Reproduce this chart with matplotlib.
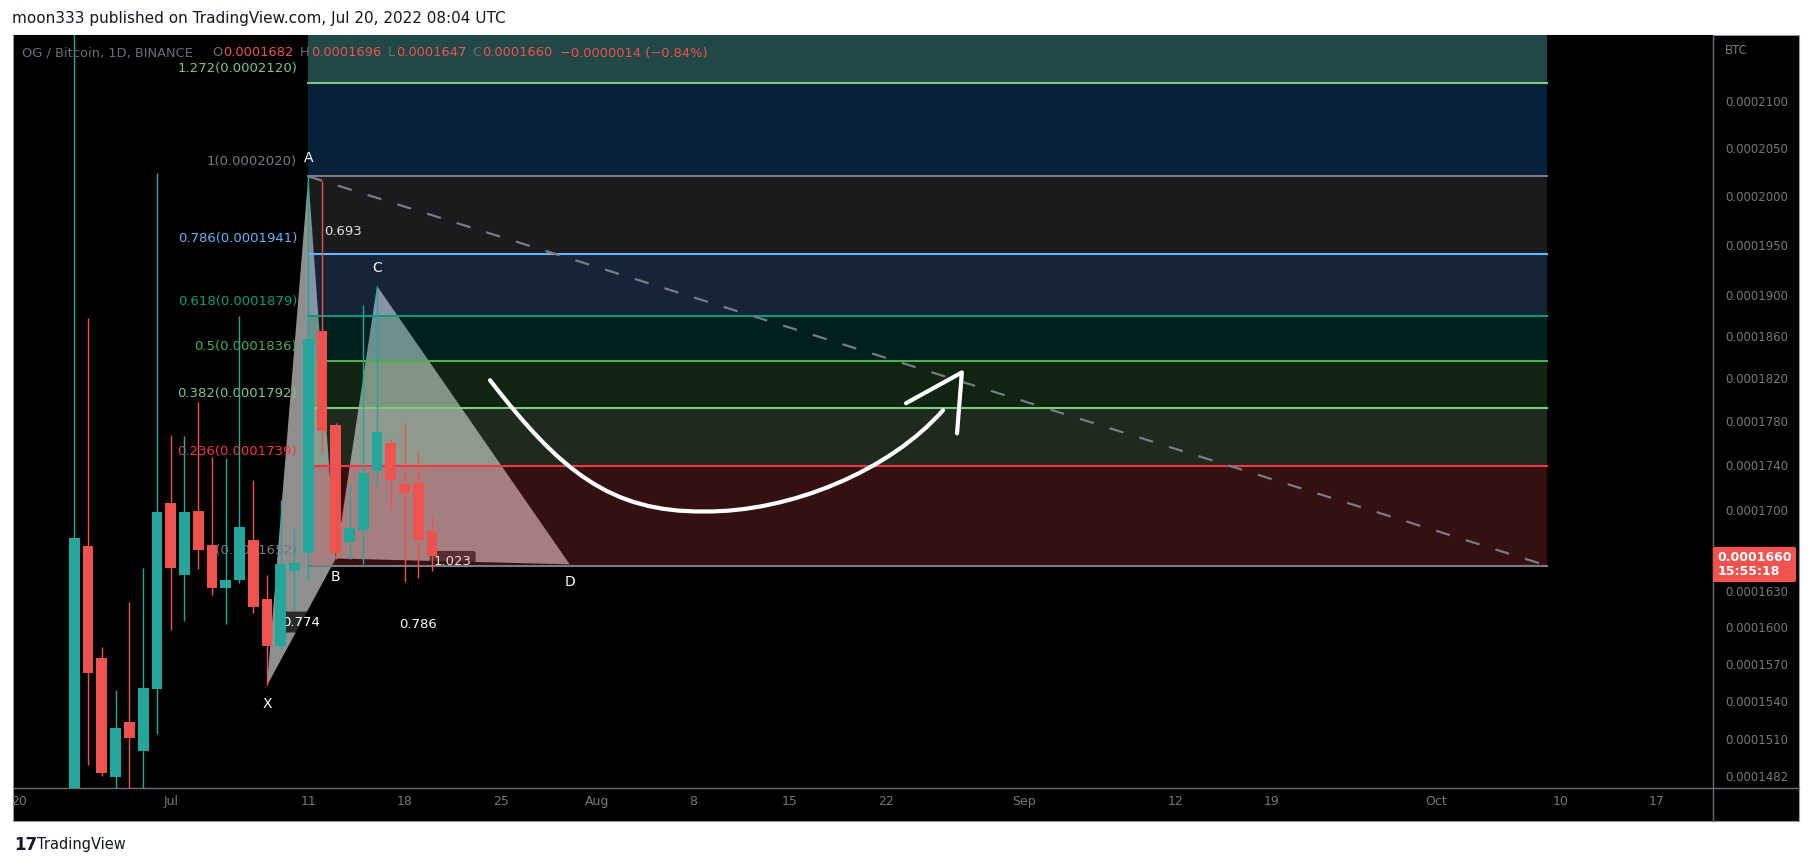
import matplotlib
matplotlib.use("Agg")
import matplotlib.pyplot as plt
import matplotlib.dates as mdates
import matplotlib.transforms as mtransforms
from matplotlib.patches import Rectangle, PathPatch
from matplotlib.path import Path
from matplotlib.lines import Line2D
from matplotlib.ticker import NullLocator
import numpy as np
import pandas as pd

plt.rcParams['font.family'] = ['DejaVu Sans']

W, H = 1813, 866
SCALE = 1e-7  # prices below are in units of 1e-7 BTC

# daily candles, OG/BTC
candle_dates = pd.date_range("2022-06-24", "2022-07-20", freq="D")
opens = [1440, 1669, 1575, 1481, 1524, 1501, 1550, 1706, 1644, 1699, 1670, 1633, 1640, 1673.5,
         1624, 1585, 1647, 1663, 1865, 1776, 1672, 1683, 1735, 1760, 1723, 1724, 1682]
highs = [2250, 1877, 1584, 1549, 1621, 1650, 2023, 1767, 1766, 1798, 1747, 1746, 1879, 1727,
         1644, 1708.5, 1684, 2020, 2015, 1778, 1723, 1890, 1909, 1764, 1778, 1751, 1696]
lows = [1420, 1490, 1482, 1468, 1468, 1470, 1514, 1598, 1605, 1649, 1627, 1603, 1637, 1612,
        1553, 1582, 1615, 1639, 1752, 1658, 1658, 1653, 1720, 1701, 1638, 1641, 1647]
closes = [1675.5, 1563, 1484, 1519, 1511.5, 1551, 1698, 1650, 1698, 1665, 1633, 1640, 1685, 1617,
          1585, 1653, 1654, 1857.5, 1771, 1662.5, 1684, 1733, 1770, 1727, 1715, 1674, 1660]

# XABCD pattern
pattern_names = ["X", "A", "B", "C", "D"]
pattern_dates = ["2022-07-08", "2022-07-11", "2022-07-13", "2022-07-16", "2022-07-30"]
pattern_prices = [1552.6, 2020, 1658, 1908.6, 1653]
ratio_pairs = [("X", "B"), ("A", "C"), ("B", "D"), ("X", "D")]
ratio_texts = ["0.774", "0.693", "1.023", "0.786"]

# fib retracement
fib_ratios = ["1.272", "1", "0.786", "0.618", "0.5", "0.382", "0.236", "0"]
fib_prices = [2120, 2020, 1941, 1879, 1836, 1792, 1739, 1652]
fib_start = "2022-07-11"
fib_end = "2022-10-09"

# dashed trend line
trend_dates = ["2022-07-11", "2022-10-09"]
trend_prices = [2020, 1652]

# hand drawn arrow: bezier control points (days after Jun 20, price)
curve_days = [34.21, 39.29, 42.93, 49.76, 56.01, 63.28, 67.13]
curve_prices = [1818, 1735, 1698, 1698.8, 1698, 1735, 1790]
head_days = [64.44, 68.5, 68.15]
head_prices = [1796.5, 1825.3, 1768.7]

xtick_dates = ["2022-06-20", "2022-07-01", "2022-07-11", "2022-07-18", "2022-07-25", "2022-08-01",
               "2022-08-08", "2022-08-15", "2022-08-22", "2022-09-01", "2022-09-12", "2022-09-19",
               "2022-10-01", "2022-10-10", "2022-10-17"]
xtick_labels = ["20", "Jul", "11", "18", "25", "Aug", "8", "15", "22", "Sep", "12", "19", "Oct", "10", "17"]
ytick_prices = [2100, 2050, 2000, 1950, 1900, 1860, 1820, 1780, 1740, 1700, 1630, 1600, 1570, 1540, 1510, 1482]

UP, DOWN = '#26A69A', '#EF5350'
AXIS_TXT = '#787878'
fib_line_colors = ['#81C784', '#787B86', '#64B5F6', '#089981', '#4CAF50', '#81C784', '#F23645', '#787B86']
zone_colors = [('#61CECE', 0.35), ('#1C84E8', 0.25), ('#7F7F88', 0.22), ('#64ADFF', 0.22),
               ('#009191', 0.22), ('#4DAD4D', 0.22), ('#88C388', 0.22), ('#F54949', 0.22)]


def dn(s):
    return mdates.date2num(pd.Timestamp(s).to_pydatetime())


def fx(px):
    return px / W


def fy(py):
    return 1 - py / H


fig = plt.figure(figsize=(W / 100, H / 100), dpi=100, facecolor='white')
fig.patches.append(Rectangle((fx(13), fy(821)), (1799 - 13) / W, (821 - 35) / H,
                             transform=fig.transFigure, facecolor='black',
                             edgecolor='#9598a1', linewidth=0.8, zorder=-1))
ax = fig.add_axes([fx(14), fy(788), (1713 - 14) / W, (788 - 35) / H])
ax.set_facecolor('black')

base = dn("2022-06-20")
ax.set_yscale('log')
ax.set_xlim(base - 0.385, base + 123.09)
ax.set_ylim(1472.6 * SCALE, 2173 * SCALE)

# pattern triangles
px = {n: dn(d) for n, d in zip(pattern_names, pattern_dates)}
pp = {n: p * SCALE for n, p in zip(pattern_names, pattern_prices)}
for tri in (("X", "A", "B"), ("B", "C", "D")):
    ax.fill([px[n] for n in tri], [pp[n] for n in tri], color='#8f8f8f', lw=0, zorder=1)

# ratio labels at leg midpoints (under the fib zones)
for (a, b), t in zip(ratio_pairs, ratio_texts):
    mx = (px[a] + px[b]) / 2
    my = np.sqrt(pp[a] * pp[b])
    ax.text(mx, my, t, ha='center', va='center', fontsize=9.5, color='white', zorder=1.5,
            bbox=dict(boxstyle='round,pad=0.3,rounding_size=0.2', fc=(0, 0, 0, 0.7), ec='none'))

# fib zones + lines
x0, x1 = dn(fib_start), dn(fib_end)
bounds = [2400] + fib_prices
for i, (col, a) in enumerate(zone_colors):
    ax.fill_between([x0, x1], bounds[i + 1] * SCALE, bounds[i] * SCALE, color=col, alpha=a, lw=0, zorder=2)
for r, p, c in zip(fib_ratios, fib_prices, fib_line_colors):
    ax.plot([x0, x1], [p * SCALE, p * SCALE], color=c, lw=1.5, zorder=3)
    ax.annotate(f"{r}({p * SCALE:.7f})", xy=(x0, p * SCALE), xytext=(-8, 10.5),
                textcoords='offset points', ha='right', va='center', fontsize=9.5, color=c, zorder=3)

ax.plot([dn(d) for d in trend_dates], [p * SCALE for p in trend_prices], color='#787B86',
        lw=1.6, dashes=(6.5, 7.5), zorder=3)

# candles
cx = mdates.date2num(candle_dates.to_pydatetime())
o = np.array(opens) * SCALE
h = np.array(highs) * SCALE
l = np.array(lows) * SCALE
c = np.array(closes) * SCALE
cols = [UP if cc >= oo else DOWN for oo, cc in zip(o, c)]
ax.vlines(cx, l, h, colors=cols, lw=1.0, zorder=4)
ax.bar(cx, np.abs(c - o), bottom=np.minimum(o, c), width=0.78, color=cols, lw=0, zorder=4)

# pattern point letters
for n in pattern_names:
    up = n in ("A", "C")
    ax.annotate(n, xy=(px[n], pp[n]), xytext=(0, 13 if up else -13), textcoords='offset points',
                ha='center', va='center', fontsize=10, color='white', zorder=5)

# arrow
verts = list(zip(base + np.array(curve_days), np.array(curve_prices) * SCALE))
codes = [Path.MOVETO] + [Path.CURVE4] * 6
ax.add_patch(PathPatch(Path(verts, codes), fc='none', ec='white', lw=3, capstyle='round',
                       joinstyle='round', zorder=6))
ax.plot(base + np.array(head_days), np.array(head_prices) * SCALE, color='white', lw=3,
        solid_capstyle='round', solid_joinstyle='round', zorder=6)

# axes styling
for s in ('top', 'left'):
    ax.spines[s].set_visible(False)
for s in ('right', 'bottom'):
    ax.spines[s].set_color('#6a6d78')
    ax.spines[s].set_linewidth(1.0)
ax.set_yticks([p * SCALE for p in ytick_prices])
ax.set_yticklabels([f"{p * SCALE:.7f}" for p in ytick_prices])
ax.yaxis.set_minor_locator(NullLocator())
ax.tick_params(axis='y', which='both', left=False, right=False, labelleft=False, labelright=True,
               length=0, pad=8.5, labelsize=8.5, labelcolor=AXIS_TXT)
ax.set_xticks([dn(d) for d in xtick_dates])
ax.set_xticklabels(xtick_labels)
ax.tick_params(axis='x', which='both', length=0, pad=5, labelsize=9, labelcolor=AXIS_TXT)

fig.lines.append(Line2D([fx(1713), fx(1713)], [fy(788), fy(821)], transform=fig.transFigure,
                        color='#6a6d78', lw=1.0))
fig.lines.append(Line2D([fx(1713), fx(1799)], [fy(788), fy(788)], transform=fig.transFigure,
                        color='#6a6d78', lw=1.0))

# last price tag
blend = mtransforms.blended_transform_factory(ax.transAxes, ax.transData)
ax.annotate(f"{c[-1]:.7f}\n15:55:18", xy=(1, c[-1]), xycoords=blend, xytext=(3, -6),
            textcoords='offset points', ha='left', va='center', fontsize=9, fontweight='bold',
            color='white', linespacing=1.05, annotation_clip=False, zorder=10,
            bbox=dict(boxstyle='round,pad=0.35,rounding_size=0.15', fc='#F05350', ec='none'))
fig.text(fx(1725), fy(51), "BTC", fontsize=8.5, color=AXIS_TXT, va='center')

# header
gray, red = '#6a6d78', '#EF5350'
chg = c[-1] - c[-2]
header = [("OG / Bitcoin, 1D, BINANCE", 22, gray), ("O", 212, gray), (f"{o[-1]:.7f}", 223, red),
          ("H", 300, gray), (f"{h[-1]:.7f}", 311, red), ("L", 388, gray), (f"{l[-1]:.7f}", 396, red),
          ("C", 472, gray), (f"{c[-1]:.7f}", 482, red),
          (f"{chg:.7f} ({chg / c[-2] * 100:.2f}%)".replace('-', '\u2212'), 560, red)]
for t, xpos, col in header:
    fig.text(fx(xpos), fy(53), t, fontsize=9.4, color=col, va='center')

fig.text(fx(12), fy(18), "moon333 published on TradingView.com, Jul 20, 2022 08:04 UTC",
         fontsize=11, color='#131722', va='center')
fig.text(fx(14), fy(845), "17", fontsize=12, fontweight='heavy', color='#131722', va='center')
fig.text(fx(37), fy(845), "TradingView", fontsize=10.5, color='#131722', va='center')

fig.savefig('out.png', dpi=100, facecolor='white')
